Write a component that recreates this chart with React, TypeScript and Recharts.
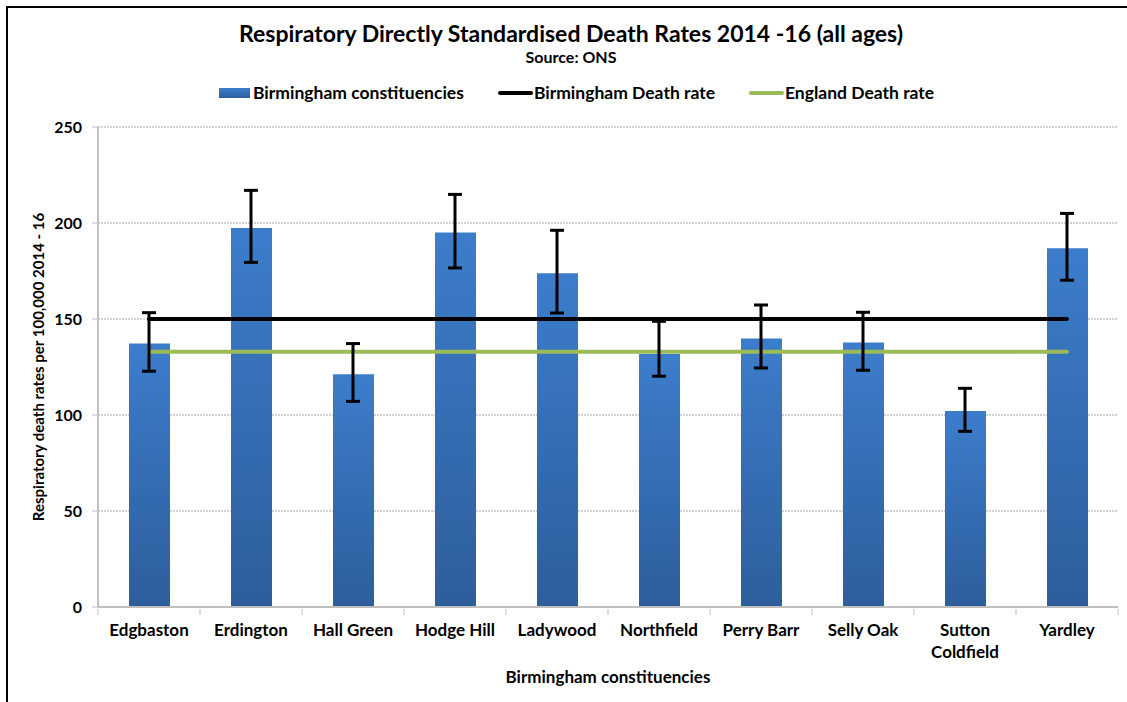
import {
  ComposedChart,
  Bar,
  Line,
  XAxis,
  YAxis,
  CartesianGrid,
  ErrorBar,
} from 'recharts'

const constituencies = [
  'Edgbaston',
  'Erdington',
  'Hall Green',
  'Hodge Hill',
  'Ladywood',
  'Northfield',
  'Perry Barr',
  'Selly Oak',
  'Sutton Coldfield',
  'Yardley',
]
const deathRates = [137.3, 197.4, 121.2, 195.0, 173.8, 131.8, 139.8, 137.7, 102.1, 186.8]
const lowerCI = [122.8, 179.5, 107.1, 176.6, 153.1, 120.2, 124.5, 123.3, 91.5, 170.2]
const upperCI = [153.3, 217.0, 137.2, 214.9, 196.2, 148.8, 157.3, 153.5, 113.9, 205.0]
const birminghamRate = [150, 150, 150, 150, 150, 150, 150, 150, 150, 150]
const englandRate = [133, 133, 133, 133, 133, 133, 133, 133, 133, 133]
const yTicks = [0, 50, 100, 150, 200, 250]

const data = constituencies.map((name, i) => ({
  name,
  rate: deathRates[i],
  ci: [deathRates[i] - lowerCI[i], upperCI[i] - deathRates[i]],
  birmingham: birminghamRate[i],
  england: englandRate[i],
}))

const FONT = 'Lato, "Open Sans", sans-serif'
const AXIS_GREY = '#BFBFBF'

// Excel style: tick marks between categories, labels wrap onto two lines
const CategoryTick = (props: any) => {
  const { x, y, payload, index, width, visibleTicksCount } = props
  const band = width / visibleTicksCount
  const words = String(payload.value).split(' ')
  const lines = payload.value.length > 12 ? words : [payload.value]
  return (
    <g>
      <line x1={x - band / 2} x2={x - band / 2} y1={y - 8} y2={y - 2} stroke={AXIS_GREY} strokeWidth={1} />
      {index === visibleTicksCount - 1 && (
        <line x1={x + band / 2} x2={x + band / 2} y1={y - 8} y2={y - 2} stroke={AXIS_GREY} strokeWidth={1} />
      )}
      <text x={x} y={y + 19} textAnchor="middle" fontFamily={FONT} fontWeight={700} fontSize={17} fill="#000">
        {lines.map((l: string, i: number) => (
          <tspan key={i} x={x} dy={i === 0 ? 0 : 22}>{l}</tspan>
        ))}
      </text>
    </g>
  )
}

const LegendItem = ({ kind, color, label }: { kind: 'bar' | 'line'; color: string; label: string }) => (
  <div style={{ display: 'flex', alignItems: 'center' }}>
    {kind === 'bar' ? (
      <div style={{ width: 31, height: 10, background: 'linear-gradient(#3C7DCB, #2E5E9C)', marginRight: 3 }} />
    ) : (
      <div style={{ width: 35, height: 4, borderRadius: 2, background: color, marginRight: 1 }} />
    )}
    <span>{label}</span>
  </div>
)

export default function App() {
  return (
    <div
      style={{
        position: 'absolute',
        left: 0,
        top: 0,
        width: 1127,
        height: 702,
        background: '#fff',
        fontFamily: FONT,
        overflow: 'hidden',
      }}
    >
      <div
        style={{
          position: 'absolute',
          left: 6,
          top: 6,
          width: 1200,
          height: 800,
          borderLeft: '2px solid #000',
          borderTop: '2px solid #000',
        }}
      />
      <div
        style={{
          position: 'absolute',
          left: 71,
          width: 1000,
          top: 19,
          textAlign: 'center',
          fontWeight: 700,
          fontSize: 23,
          lineHeight: '28px',
        }}
      >
        Respiratory Directly Standardised Death Rates 2014 -16 (all ages)
      </div>
      <div
        style={{
          position: 'absolute',
          left: 71,
          width: 1000,
          top: 47,
          textAlign: 'center',
          fontWeight: 700,
          fontSize: 16,
          lineHeight: '20px',
        }}
      >
        Source: ONS
      </div>
      <div
        style={{
          position: 'absolute',
          left: 219,
          top: 82,
          display: 'flex',
          gap: 34,
          fontWeight: 700,
          fontSize: 17.5,
          lineHeight: '22px',
        }}
      >
        <LegendItem kind="bar" color="#3C7DCB" label="Birmingham constituencies" />
        <LegendItem kind="line" color="#000" label="Birmingham Death rate" />
        <LegendItem kind="line" color="#9BBB59" label="England Death rate" />
      </div>

      <div style={{ position: 'absolute', left: 0, top: 0 }}>
        <ComposedChart
          width={1127}
          height={702}
          data={data}
          margin={{ top: 127, right: 9, bottom: 0, left: 0 }}
          barCategoryGap="60%"
        >
          <defs>
            <linearGradient id="barGrad" x1="0" y1="0" x2="0" y2="1">
              <stop offset="0%" stopColor="#3C7DCB" />
              <stop offset="100%" stopColor="#2E5E9C" />
            </linearGradient>
          </defs>
          <CartesianGrid vertical={false} stroke="#A6A6A6" strokeDasharray="2 1" />
          <XAxis
            dataKey="name"
            height={95}
            axisLine={{ stroke: AXIS_GREY, strokeWidth: 2 }}
            tickLine={false}
            tickSize={8}
            interval={0}
            tick={<CategoryTick />}
            label={{
              content: ({ viewBox }: any) => (
                <text
                  x={viewBox.x + viewBox.width / 2}
                  y={683}
                  textAnchor="middle"
                  fontFamily={FONT}
                  fontWeight={700}
                  fontSize={17}
                  fill="#000"
                >
                  Birmingham constituencies
                </text>
              ),
            }}
          />
          <YAxis
            width={98}
            domain={[0, 250]}
            ticks={yTicks}
            interval={0}
            axisLine={{ stroke: AXIS_GREY, strokeWidth: 2 }}
            tickLine={{ stroke: AXIS_GREY }}
            tickSize={6}
            tickMargin={10}
            tick={{ fontFamily: FONT, fontWeight: 700, fontSize: 16, fill: '#000' }}
            label={{
              content: ({ viewBox }: any) => (
                <text
                  transform={`translate(44, ${viewBox.y + viewBox.height / 2}) rotate(-90)`}
                  textAnchor="middle"
                  fontFamily={FONT}
                  fontWeight={700}
                  fontSize={15}
                  fill="#000"
                >
                  Respiratory death rates per 100,000 2014 - 16
                </text>
              ),
            }}
          />
          <Bar dataKey="rate" fill="url(#barGrad)" barSize={41} isAnimationActive={false} />
          <Line
            dataKey="england"
            stroke="#9BBB59"
            strokeWidth={4}
            strokeLinecap="round"
            dot={false}
            activeDot={false}
            type="linear"
            isAnimationActive={false}
          />
          <Line
            dataKey="birmingham"
            stroke="#000"
            strokeWidth={4}
            strokeLinecap="round"
            dot={false}
            activeDot={false}
            type="linear"
            isAnimationActive={false}
          />
          <Line dataKey="rate" stroke="none" dot={false} activeDot={false} isAnimationActive={false}>
            <ErrorBar dataKey="ci" direction="y" width={7} strokeWidth={3} stroke="#000" />
          </Line>
        </ComposedChart>
      </div>
    </div>
  )
}
